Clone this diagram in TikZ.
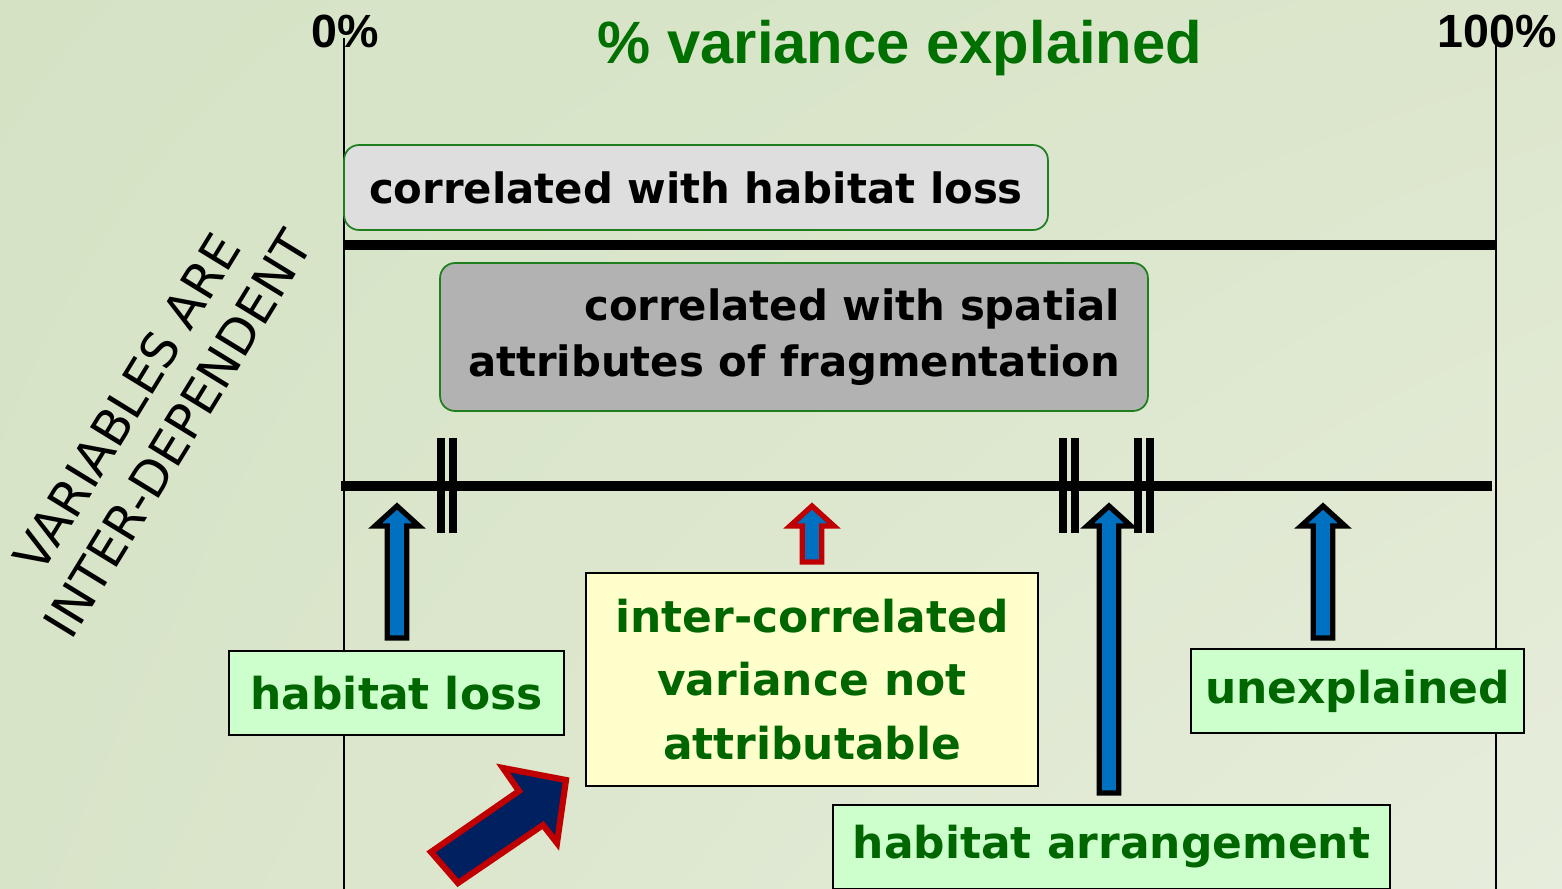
\documentclass[tikz,border=0pt]{standalone}
\usepackage{fontspec}
\setmainfont{Liberation Sans}
\newfontfamily\comic{DejaVu Sans}
\usetikzlibrary{calc,shadings}

\definecolor{bgA}{HTML}{D5E3C5}
\definecolor{bgB}{HTML}{DCE6CC}
\definecolor{bgC}{HTML}{D8E4C8}
\definecolor{bgD}{HTML}{E7EDDC}
\definecolor{lblgreen}{HTML}{CCFFCC}
\definecolor{lblyellow}{HTML}{FFFFCC}
\definecolor{txtgreen}{HTML}{006600}
\definecolor{titlegreen}{HTML}{007000}
\definecolor{boxgreen}{HTML}{1F7F1F}
\definecolor{arrblue}{HTML}{0070C0}
\definecolor{arrred}{HTML}{C00000}
\definecolor{navy}{HTML}{002060}

% block arrow pointing up: [outline]{tail}{tip}
\newcommand\upblock[3][black]{%
  \draw[blk, draw=#1] ($(#2)+(-9.75,0)$) -- ($(#3)+(-9.75,20)$) -- ($(#3)+(-22,20)$) -- (#3)
    -- ($(#3)+(22,20)$) -- ($(#3)+(9.75,20)$) -- ($(#2)+(9.75,0)$) -- cycle;}

\begin{document}
\begin{tikzpicture}[
    x=0.02cm, y=-0.02cm,
    hbox/.style={draw=boxgreen, line width=1pt, rounded corners=0.3cm, align=right,
      font=\comic\bfseries\fontsize{23.8}{32}\selectfont},
    lbl/.style={draw=black, line width=1pt, fill=lblgreen, text=txtgreen, align=center,
      minimum height=1.68cm, font=\comic\bfseries\fontsize{25}{36}\selectfont},
    pct/.style={anchor=base, font=\bfseries\fontsize{26.5}{30}\selectfont},
    axis/.style={line width=1.1pt},
    bar/.style={line width=6pt},
    brk/.style={line width=4.2pt},
    blk/.style={fill=arrblue, line width=3pt, line join=miter}
]
\useasboundingbox (0,0) rectangle (1562,889);
\clip (0,0) rectangle (1562,889);
\shade[upper left=bgA, upper right=bgB, lower left=bgC, lower right=bgD] (0,0) rectangle (1562,889);

% scale
\node[pct] (p0) at (345,47) {0\%};
\node[pct] (p100) at (1497,47) {100\%};
\node[anchor=base, text=titlegreen, font=\bfseries\fontsize{34}{40}\selectfont] (title) at (900,63) {\% variance explained};
\coordinate (ax0t) at (344,38);
\coordinate (ax0b) at (344,889);
\coordinate (ax1t) at (1496,45);
\coordinate (ax1b) at (1496,889);
\draw[axis] (ax0t) -- (ax0b);
\draw[axis] (ax1t) -- (ax1b);

% upper bar
\node[hbox, fill=black!13, minimum width=14.08cm, minimum height=1.7cm] (hl) at (696,187.5) {correlated with habitat loss};
\coordinate (l1w) at (344,245);
\coordinate (l1e) at (1496,245);
\draw[bar] (l1w) -- (l1e);

% lower bar
\node[hbox, fill=black!30, minimum width=14.16cm, minimum height=2.96cm] (spat) at (794,337) {correlated with spatial\\attributes of fragmentation};
\coordinate (l2w) at (341,486);
\coordinate (l2e) at (1492,486);
\draw[bar] (l2w) -- (l2e);
\foreach \x in {447,1069,1144} {
  \draw[brk] (\x-6,438) -- (\x-6,533);
  \draw[brk] (\x+6,438) -- (\x+6,533);
}

\node[rotate=58.5, align=center, font=\comic\fontsize{28}{34}\selectfont] (interdep) at (152,418) {VARIABLES ARE\\INTER-DEPENDENT};

% labels
\node[lbl, minimum width=6.7cm] (loss) at (396.5,693) {habitat loss};
\node[lbl, minimum width=6.66cm] (unexp) at (1357.5,691) {unexplained};
\node[lbl, minimum width=11.14cm] (arrange) at (1111.5,847) {habitat arrangement};
\node[lbl, fill=lblyellow, minimum width=9.04cm, minimum height=4.26cm] (incorr) at (812,679.5) {inter-correlated\\variance not\\attributable};

% arrows up to the bar
\coordinate (t1) at (397,506);
\coordinate (s1) at (397,638);
\coordinate (t2) at (812,506);
\coordinate (s2) at (812,562);
\coordinate (t3) at (1109,506);
\coordinate (s3) at (1109,793);
\coordinate (t4) at (1323,506);
\coordinate (s4) at (1323,638);
\upblock{s1}{t1}
\upblock[arrred]{s2}{t2}
\upblock{s3}{t3}
\upblock{s4}{t4}

% pointer
\draw[fill=navy, draw=arrred, line width=3.5pt, line join=miter] (431,852) -- (519,791) -- (503,768) -- (566,780) -- (557,843) -- (543,825) -- (458,883) -- cycle;
\end{tikzpicture}
\end{document}
